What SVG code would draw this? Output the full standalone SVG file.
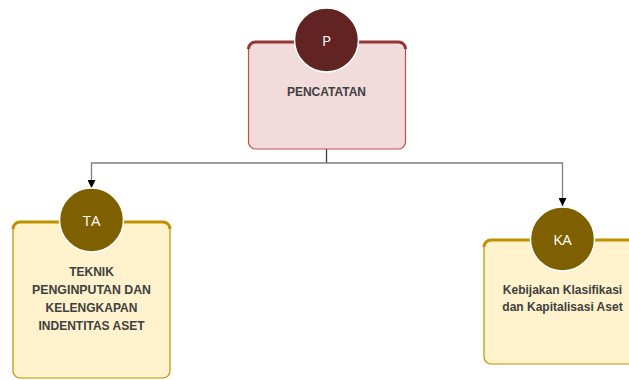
<svg xmlns="http://www.w3.org/2000/svg" width="629" height="380" viewBox="0 0 629 380">
<style>
.lbl{font-family:"Liberation Sans",Arial,sans-serif;font-weight:bold;font-size:12px;fill:#404040;text-anchor:middle}
.cl{font-family:"Open Sans","Liberation Sans",sans-serif;font-size:15px;fill:#ffffff;text-anchor:middle}
.conn{fill:none;stroke:#7f7f7f;stroke-width:1.3}
</style>
<defs>
<marker id="arr" viewBox="0 0 10 10" refX="10" refY="5" markerWidth="8" markerHeight="8" markerUnits="userSpaceOnUse" orient="auto">
<path d="M0,0 L10,5 L0,10 z" fill="#000"/>
</marker>
</defs>
<rect width="629" height="380" fill="#ffffff"/>
<g id="connectors">
<line x1="326.5" y1="149" x2="326.5" y2="163" stroke="#404040" stroke-width="1.3"/>
<polyline class="conn" points="91.5,188 91.5,163 562.5,163 562.5,206" />
<line x1="91.5" y1="180" x2="91.5" y2="188" stroke="#7f7f7f" stroke-width="1.3" marker-end="url(#arr)"/>
<line x1="562.5" y1="198" x2="562.5" y2="206" stroke="#7f7f7f" stroke-width="1.3" marker-end="url(#arr)"/>
</g>
<g id="node-P">
<rect x="248.5" y="42" width="157" height="107" rx="7" fill="#f2dbdb" stroke="#c0504d" stroke-width="1.2"/>
<path d="M248.5,49 A7,7 0 0 1 255.5,42 L398.5,42 A7,7 0 0 1 405.5,49" fill="none" stroke="#943634" stroke-width="3"/>
<circle cx="326.5" cy="40" r="32" fill="#622423" stroke="#ffffff" stroke-width="1.5"/>
<text class="cl" x="326.5" y="46">P</text>
<text class="lbl" x="326.5" y="96">PENCATATAN</text>
</g>
<g id="node-TA">
<rect x="13" y="222" width="157" height="156" rx="7" fill="#fff2cc" stroke="#bf9000" stroke-width="1.2"/>
<path d="M13,229 A7,7 0 0 1 20,222 L163,222 A7,7 0 0 1 170,229" fill="none" stroke="#bf9000" stroke-width="3"/>
<circle cx="91.5" cy="220" r="32" fill="#7f6000" stroke="#ffffff" stroke-width="1.5"/>
<text class="cl" x="91.5" y="226">TA</text>
<text class="lbl" x="91.5" y="276">TEKNIK</text>
<text class="lbl" x="91.5" y="294" textLength="119" lengthAdjust="spacingAndGlyphs">PENGINPUTAN DAN</text>
<text class="lbl" x="91.5" y="312">KELENGKAPAN</text>
<text class="lbl" x="91.5" y="330">INDENTITAS ASET</text>
</g>
<g id="node-KA">
<rect x="484" y="240" width="160" height="124" rx="7" fill="#fff2cc" stroke="#bf9000" stroke-width="1.2"/>
<path d="M484,247 A7,7 0 0 1 491,240 L640,240" fill="none" stroke="#bf9000" stroke-width="3"/>
<circle cx="562.5" cy="239" r="32" fill="#7f6000" stroke="#ffffff" stroke-width="1.5"/>
<text class="cl" x="562.5" y="245">KA</text>
<text class="lbl" x="562.5" y="294">Kebijakan Klasifikasi</text>
<text class="lbl" x="562.5" y="311">dan Kapitalisasi Aset</text>
</g>
</svg>
